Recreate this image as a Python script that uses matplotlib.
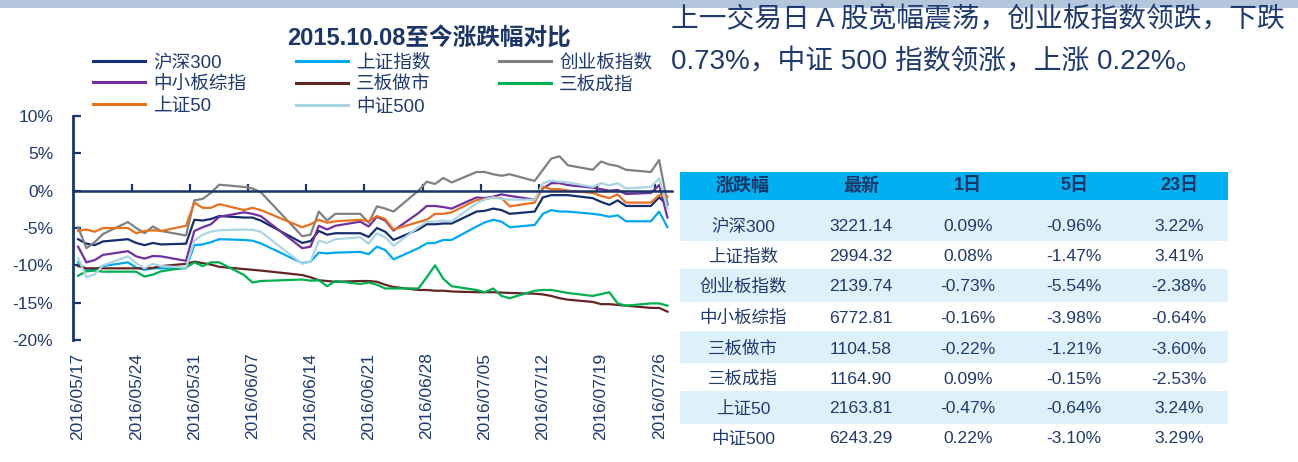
import matplotlib
matplotlib.use('Agg')
import matplotlib.pyplot as plt
import matplotlib.dates as mdates
from matplotlib.lines import Line2D
from matplotlib.patches import Rectangle
import pandas as pd

plt.rcParams['font.family'] = ['Liberation Sans', 'Noto Sans CJK SC']

# ---------------- data ----------------
dates = ['2016-05-17', '2016-05-18', '2016-05-19', '2016-05-20', '2016-05-23', '2016-05-24',
         '2016-05-25', '2016-05-26', '2016-05-27', '2016-05-30', '2016-05-31', '2016-06-01',
         '2016-06-02', '2016-06-03', '2016-06-06', '2016-06-07', '2016-06-08', '2016-06-13',
         '2016-06-14', '2016-06-15', '2016-06-16', '2016-06-17', '2016-06-20', '2016-06-21',
         '2016-06-22', '2016-06-23', '2016-06-24', '2016-06-27', '2016-06-28', '2016-06-29',
         '2016-06-30', '2016-07-01', '2016-07-04', '2016-07-05', '2016-07-06', '2016-07-07',
         '2016-07-08', '2016-07-11', '2016-07-12', '2016-07-13', '2016-07-14', '2016-07-15',
         '2016-07-18', '2016-07-19', '2016-07-20', '2016-07-21', '2016-07-22', '2016-07-25',
         '2016-07-26', '2016-07-27']

hs300 = [-6.5, -7.1, -7.3, -6.8, -6.5, -7.0, -7.3, -7.0, -7.2, -7.1,
         -3.9, -4.0, -3.8, -3.4, -3.6, -3.6, -4.0, -7.0, -6.75, -5.4,
         -5.9, -5.7, -5.7, -6.2, -5.0, -5.5, -6.6, -5.2, -4.5, -4.5,
         -4.4, -4.4, -2.8, -2.7, -2.4, -2.6, -3.1, -2.8, -0.9, -0.6,
         -0.6, -0.6, -1.0, -1.5, -1.9, -1.3, -2.05, -2.05, -0.9, -1.9]
szzs = [-9.6, -10.7, -10.6, -10.1, -9.6, -10.3, -10.6, -10.4, -10.4, -10.4,
        -7.3, -7.2, -6.9, -6.5, -6.6, -6.7, -7.05, -9.7, -9.5, -8.3,
        -8.4, -8.3, -8.2, -8.5, -7.5, -7.95, -9.2, -7.7, -7.05, -7.0,
        -6.6, -6.6, -4.8, -4.25, -3.9, -4.15, -4.9, -4.6, -3.1, -2.6,
        -2.8, -2.8, -3.1, -3.25, -3.5, -3.3, -4.1, -4.1, -2.8, -4.9]
cybz = [-4.9, -7.7, -6.9, -5.8, -4.2, -5.0, -5.7, -4.8, -5.4, -6.0,
        -1.3, -1.1, -0.3, 0.8, 0.5, 0.3, -0.2, -6.1, -5.9, -2.8,
        -4.0, -3.1, -3.1, -4.3, -2.1, -2.4, -2.8, 0.0, 1.2, 0.9,
        1.7, 1.1, 2.5, 2.5, 2.2, 2.0, 2.2, 1.3, 2.8, 4.3,
        4.6, 3.4, 2.8, 3.9, 3.5, 3.3, 2.8, 2.5, 4.1, -1.7]
zxbz = [-7.5, -9.6, -9.3, -8.6, -8.1, -8.8, -9.1, -8.75, -8.8, -9.4,
        -5.4, -4.9, -4.5, -3.5, -2.9, -3.1, -3.4, -7.7, -7.5, -4.7,
        -5.2, -4.7, -4.15, -4.8, -3.5, -4.0, -5.35, -3.0, -2.05, -2.05,
        -2.2, -2.4, -0.9, -1.0, -0.8, -0.5, -0.7, -1.2, 0.3, 1.0,
        1.0, 0.75, 0.4, 0.2, 0.0, 0.1, -0.45, -0.3, 0.75, -3.6]
sbzs = [-10.1, -10.4, -10.4, -10.4, -10.4, -10.4, -10.4, -10.35, -10.1, -9.8,
        -9.5, -9.7, -9.9, -10.2, -10.5, -10.6, -10.7, -11.3, -11.6, -12.0,
        -12.1, -12.2, -12.1, -12.1, -12.2, -12.6, -12.9, -13.3, -13.3, -13.4,
        -13.4, -13.5, -13.6, -13.6, -13.6, -13.65, -13.7, -13.8, -13.9, -14.1,
        -14.4, -14.6, -14.9, -15.2, -15.2, -15.3, -15.4, -15.7, -15.7, -16.2]
sbcz = [-11.4, -10.8, -10.7, -10.85, -10.85, -10.85, -11.5, -11.25, -10.8, -10.3,
        -9.6, -10.1, -9.6, -9.6, -11.3, -12.3, -12.1, -11.9, -12.05, -12.0,
        -12.8, -12.1, -12.5, -12.3, -12.6, -13.1, -13.1, -13.1, -11.6, -10.0,
        -11.8, -12.8, -13.3, -13.6, -13.1, -14.1, -14.4, -13.4, -13.3, -13.3,
        -13.5, -13.7, -14.1, -13.85, -13.6, -15.1, -15.4, -15.1, -15.1, -15.4]
sz50 = [-5.4, -5.2, -5.5, -5.0, -5.0, -5.7, -5.4, -5.3, -5.4, -4.7,
        -1.6, -2.3, -2.3, -1.8, -2.6, -2.3, -2.6, -4.9, -4.5, -3.9,
        -4.3, -4.1, -3.9, -4.1, -3.4, -3.8, -5.2, -4.2, -3.9, -3.1,
        -3.1, -2.9, -1.25, -1.15, -0.9, -1.0, -2.1, -1.6, 0.5, 0.2,
        0.2, 0.0, -0.3, -0.7, -1.0, -0.5, -1.6, -1.6, -0.6, -0.8]
zz500 = [-9.0, -11.6, -11.2, -10.0, -8.8, -9.7, -10.4, -9.8, -10.1, -10.3,
         -6.7, -5.9, -5.5, -5.3, -5.2, -5.25, -5.5, -9.8, -9.5, -6.7,
         -7.0, -6.5, -6.25, -7.1, -5.7, -6.25, -7.4, -4.9, -4.15, -4.15,
         -4.0, -4.1, -1.7, -1.15, -0.9, -1.1, -1.2, -1.2, 1.0, 1.35,
         1.2, 1.1, 0.5, 1.0, 0.7, 1.0, 0.3, 0.5, 1.65, -2.4]

series_names = ['沪深300', '上证指数', '创业板指数', '中小板综指', '三板做市', '三板成指', '上证50', '中证500']
series_values = [hs300, szzs, cybz, zxbz, sbzs, sbcz, sz50, zz500]
series_colors = ['#142E6E', '#00A8EE', '#808080', '#7030A0', '#632523', '#00B050', '#E8711E', '#A9D6E4']

tick_dates = ['2016-05-17', '2016-05-24', '2016-05-31', '2016-06-07', '2016-06-14', '2016-06-21',
              '2016-06-28', '2016-07-05', '2016-07-12', '2016-07-19', '2016-07-26']
tick_labels = ['2016/05/17', '2016/05/24', '2016/05/31', '2016/06/07', '2016/06/14', '2016/06/21',
               '2016/06/28', '2016/07/05', '2016/07/12', '2016/07/19', '2016/07/26']
y_ticks = [-20, -15, -10, -5, 0, 5, 10]

title = '2015.10.08至今涨跌幅对比'
comment_lines = ['上一交易日 A 股宽幅震荡，创业板指数领跌，下跌',
                 '0.73%，中证 500 指数领涨，上涨 0.22%。']

table_header = ['涨跌幅', '最新', '1日', '5日', '23日']
table_names = ['沪深300', '上证指数', '创业板指数', '中小板综指', '三板做市', '三板成指', '上证50', '中证500']
table_latest = ['3221.14', '2994.32', '2139.74', '6772.81', '1104.58', '1164.90', '2163.81', '6243.29']
table_1d = ['0.09%', '0.08%', '-0.73%', '-0.16%', '-0.22%', '0.09%', '-0.47%', '0.22%']
table_5d = ['-0.96%', '-1.47%', '-5.54%', '-3.98%', '-1.21%', '-0.15%', '-0.64%', '-3.10%']
table_23d = ['3.22%', '3.41%', '-2.38%', '-0.64%', '-3.60%', '-2.53%', '3.24%', '3.29%']

# ---------------- figure ----------------
W, H = 1298, 462
fig = plt.figure(figsize=(W / 100, H / 100), dpi=100)
fig.patch.set_facecolor('white')


def fx(px):
    return px / W


def fy(py):
    return 1 - py / H


NAVY = '#1B3568'
TXT = '#1F3A6E'

# top bar
fig.add_artist(Rectangle((0, fy(8)), 1, 8 / H, transform=fig.transFigure,
                         facecolor='#B3C6DC', edgecolor='none'))

# main axes
ax = fig.add_axes([fx(72.7), fy(340), fx(671.6) - fx(72.7), fy(116) - fy(340)])
x = mdates.date2num(pd.to_datetime(dates))
for name, vals, col in zip(series_names, series_values, series_colors):
    ax.plot(x, vals, color=col, lw=1.6, label=name, solid_joinstyle='round')

ax.set_xlim(x[0] - 0.65, x[-1] + 0.5)
ax.set_ylim(-20, 10)
for s in ['top', 'right']:
    ax.spines[s].set_visible(False)
ax.spines['left'].set_color(NAVY)
ax.spines['left'].set_linewidth(2)
ax.spines['bottom'].set_position(('data', 0))
ax.spines['bottom'].set_color(NAVY)
ax.spines['bottom'].set_linewidth(1.8)
ax.set_facecolor('none')

ax.set_yticks(y_ticks)
ax.set_yticklabels([f'{v}%' for v in y_ticks])
ax.tick_params(axis='y', direction='in', length=6, width=1.6, color=NAVY,
               labelsize=12.6, labelcolor=TXT, pad=14)

tx = mdates.date2num(pd.to_datetime(tick_dates))
ax.set_xticks(tx[1:] - 0.5)
ax.tick_params(axis='x', direction='in', length=5, width=1.6, color=NAVY,
               labelbottom=False)

sec = ax.secondary_xaxis('bottom')
sec.set_xticks(tx)
sec.set_xticklabels(tick_labels, rotation=90, va='top', ha='center')
sec.tick_params(length=0, labelsize=12.5, labelcolor=TXT, pad=9)
sec.spines['bottom'].set_visible(False)

# title
fig.text(fx(429), fy(38), title, ha='center', va='center', fontsize=17,
         fontweight='bold', color=NAVY)

# legend: three columns, row-major order as in the reference
handles = [Line2D([], [], color=c, lw=2.2) for c in series_colors]
cols = [[0, 3, 6], [1, 4, 7], [2, 5]]
col_x = [93, 296, 499]
for cx, idxs in zip(col_x, cols):
    lg = fig.legend([handles[i] for i in idxs], [series_names[i] for i in idxs],
                    loc='upper left', bbox_to_anchor=(fx(cx), fy(54)),
                    frameon=False, fontsize=13.4, handlelength=2.8, handletextpad=0.43,
                    borderpad=0, borderaxespad=0, labelspacing=0.25)
    for t in lg.get_texts():
        t.set_color(TXT)

# commentary text
fig.text(fx(671), fy(20), comment_lines[0], ha='left', va='center', fontsize=20, color=TXT)
fig.text(fx(671), fy(62), comment_lines[1], ha='left', va='center', fontsize=20, color=TXT)

# table
tbl_x0, tbl_x1 = 679.5, 1228
fig.add_artist(Rectangle((fx(tbl_x0), fy(200)), fx(tbl_x1) - fx(tbl_x0), 28 / H,
                         transform=fig.transFigure, facecolor='#00B0F0', edgecolor='none'))
band_rows = [(200, 241), (269, 301.7), (330.7, 362.7), (391, 424)]
for y0, y1 in band_rows:
    fig.add_artist(Rectangle((fx(tbl_x0), fy(y1)), fx(tbl_x1) - fx(tbl_x0), (y1 - y0) / H,
                             transform=fig.transFigure, facecolor='#DEF1FB', edgecolor='none'))
col_cx = [743, 861, 968, 1074, 1179]
for cx, h in zip(col_cx, table_header):
    fig.text(fx(cx), fy(186), h, ha='center', va='center', fontsize=13,
             fontweight='bold', color=NAVY)
row_cy = [226.7, 256.7, 286.7, 318.3, 349.3, 379, 408.3, 438.3]
for i, cy in enumerate(row_cy):
    vals = [table_names[i], table_latest[i], table_1d[i], table_5d[i], table_23d[i]]
    for cx, v in zip(col_cx, vals):
        fig.text(fx(cx), fy(cy), v, ha='center', va='center', fontsize=12.6, color=TXT)

fig.savefig('out.png', dpi=100, facecolor='white')
